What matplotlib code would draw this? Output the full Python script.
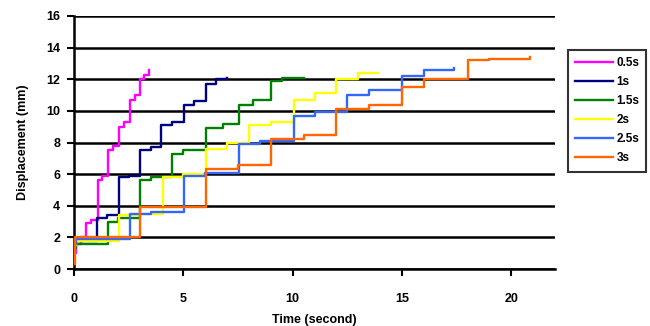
import matplotlib
matplotlib.use("Agg")
import matplotlib.pyplot as plt

labels = ["0.5s", "1s", "1.5s", "2s", "2.5s", "3s"]
colors = ["#FF00FF", "#000080", "#008000", "#FFFF00", "#3366FF", "#FF6600"]

t_05 = [0, 0.1, 0.3, 0.55, 0.8, 1.1, 1.3, 1.55, 1.8, 2.05, 2.3, 2.58, 2.8, 3.0, 3.2, 3.45]
y_05 = [1.0, 1.6, 2.0, 2.9, 3.1, 5.6, 5.9, 7.5, 7.8, 9.0, 9.3, 10.7, 11.0, 12.0, 12.3, 12.6]

t_1 = [0, 0.1, 1.05, 1.5, 2.05, 2.5, 3.0, 3.5, 4.0, 4.5, 5.05, 5.5, 6.05, 6.5, 7.0]
y_1 = [1.5, 1.8, 3.2, 3.4, 5.8, 5.9, 7.5, 7.7, 9.1, 9.3, 10.4, 10.6, 11.7, 12.0, 12.1]

t_15 = [0, 0.1, 1.55, 2.0, 3.0, 3.5, 4.5, 5.0, 6.05, 6.8, 7.55, 8.2, 9.0, 9.5, 10.5]
y_15 = [1.3, 1.6, 3.0, 3.2, 5.6, 5.8, 7.3, 7.5, 8.9, 9.2, 10.4, 10.7, 11.9, 12.1, 12.1]

t_2 = [0, 0.1, 2.05, 3.0, 4.05, 5.0, 6.05, 7.0, 8.0, 9.0, 10.05, 11.0, 12.0, 13.0, 13.9]
y_2 = [1.5, 1.8, 3.4, 3.5, 5.8, 6.0, 7.6, 8.0, 9.1, 9.3, 10.7, 11.1, 12.0, 12.4, 12.4]

t_25 = [0, 0.1, 2.55, 3.5, 5.05, 6.0, 7.55, 8.5, 10.05, 11.0, 12.5, 13.5, 15.0, 16.0, 17.4]
y_25 = [1.6, 1.9, 3.5, 3.6, 5.9, 6.1, 7.9, 8.1, 9.7, 9.9, 11.0, 11.3, 12.2, 12.6, 12.7]

t_3 = [0, 0.05, 3.0, 4.5, 6.05, 7.5, 9.0, 10.5, 12.0, 13.5, 15.0, 16.0, 18.0, 19.0, 20.85]
y_3 = [0.3, 2.0, 3.9, 3.9, 6.3, 6.6, 8.2, 8.5, 10.1, 10.4, 11.5, 12.0, 13.2, 13.3, 13.4]

series = [(t_05, y_05), (t_1, y_1), (t_15, y_15), (t_2, y_2), (t_25, y_25), (t_3, y_3)]

x_ticks = [0, 5, 10, 15, 20]
y_ticks = [0, 2, 4, 6, 8, 10, 12, 14, 16]

plt.rcParams['font.family'] = ['Liberation Sans', 'DejaVu Sans']

fig = plt.figure(figsize=(6.5, 3.26), dpi=100)
ax = fig.add_axes([74/650, 1 - 269/326, (555-74)/650, (269-16)/326])

for (t, y), c, lab in zip(series, colors, labels):
    ax.step(t, y, where='post', color=c, lw=1.7, label=lab, zorder=3)

ax.set_xlim(0, 22)
ax.set_ylim(0, 16)
ax.set_xticks(x_ticks)
ax.set_yticks(y_ticks)
ax.yaxis.grid(True, color='black', lw=1.8, zorder=1)
ax.set_axisbelow(True)
for s in ['top', 'right']:
    ax.spines[s].set_visible(False)
for s in ['left', 'bottom']:
    ax.spines[s].set_linewidth(1.8)
ax.tick_params(direction='out', length=5, width=1.5, labelsize=9)
ax.tick_params(axis='x', pad=12)
ax.tick_params(axis='y', pad=5)
for lab in ax.get_xticklabels() + ax.get_yticklabels():
    lab.set_fontweight('bold')
ax.set_xlabel("Time (second)", fontsize=9, fontweight='bold', labelpad=7)
ax.set_ylabel("Displacement (mm)", fontsize=9, fontweight='bold', labelpad=12)

leg = fig.legend(loc='upper left', bbox_to_anchor=(568/650, 1 - 50/326), frameon=True,
                 fancybox=False, edgecolor='black', fontsize=8.5, handlelength=3.2,
                 labelspacing=0.6, borderpad=0.6, handletextpad=0.3, borderaxespad=0)
leg.get_frame().set_linewidth(1.5)
for txt in leg.get_texts():
    txt.set_fontweight('bold')

fig.savefig("out.png", dpi=100)
